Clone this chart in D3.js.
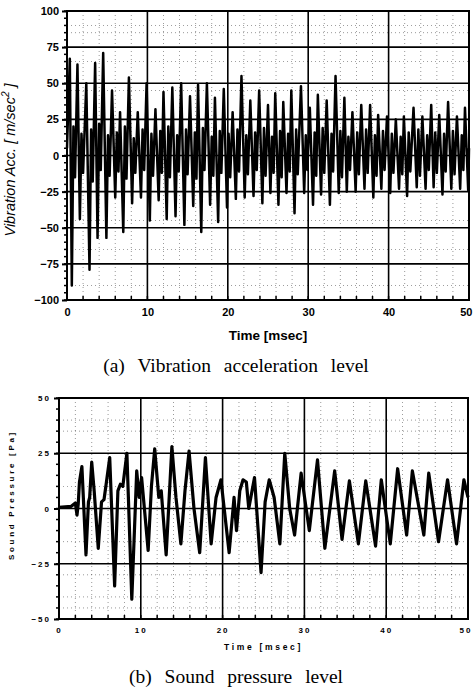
<!DOCTYPE html>
<html><head><meta charset="utf-8">
<script src="https://cdn.jsdelivr.net/npm/d3@7"></script>
<style>body{margin:0;background:#fff}svg{display:block}</style>
</head><body><svg id="c" width="473" height="690"></svg>
<script>
// ---------- data: (a) vibration acceleration ----------
const vibPeakT = [0.35,1.3,2.4,3.5,4.5,5.6,6.6,7.7,8.8,9.9,11.0,12.0,13.1,14.2,15.3,16.3,17.4,18.4,19.5,20.6,21.7,22.8,23.9,25.0,25.9,26.9,27.9,29.1,30.2,31.2,32.3,33.4,34.5,35.5,36.6,37.7,38.7,39.8,40.9,41.9,43.1,44.2,45.3,46.3,47.4,48.5,49.5];
const vibPeakV = [67,63,50,64,71,45,30,54,30,50,32,44,47,50,41,49,50,40,46,30,55,38,45,35,43,37,45,48,33,42,38,55,40,30,35,35,28,27,25,27,33,27,35,28,37,27,33];
const vibTroughT = [0.6,1.6,2.8,3.8,4.9,6.0,7.0,8.1,9.2,10.3,11.4,12.4,13.5,14.6,15.7,16.7,17.8,18.8,19.9,21.0,22.1,23.2,24.3,25.3,26.3,27.3,28.3,29.5,30.6,31.6,32.7,33.8,34.8,35.9,37.0,38.1,39.1,40.2,41.3,42.3,43.5,44.6,45.6,46.7,47.8,48.9,49.9];
const vibTroughV = [-90,-44,-79,-57,-57,-29,-53,-33,-29,-45,-31,-44,-42,-48,-35,-53,-34,-46,-36,-30,-29,-28,-33,-26,-34,-26,-40,-26,-34,-27,-34,-26,-25,-25,-23,-29,-23,-26,-23,-28,-22,-23,-22,-27,-23,-23,-24];
const vibRipT1 = [0.8,1.8,3.0,4.0,5.1,6.2,7.2,8.3,9.4,10.5,11.6,12.6,13.7,14.8,15.9,16.9,18.0,19.0,20.1,21.2,22.3,23.4,24.5,25.5,26.5,27.5,28.5,29.7,30.8,31.8,32.9,34.0,35.0,36.1,37.2,38.3,39.3,40.4,41.5,42.5,43.7,44.8,45.8,46.9,48.0,49.1];
const vibRipV1 = [20,15,18,22,14,16,20,12,18,15,17,20,14,18,16,19,13,17,15,18,14,16,19,13,17,15,18,14,16,19,15,17,13,16,18,14,17,15,13,16,18,14,16,15,17,14];
const vibRipT2 = [1.0,2.0,3.2,4.2,5.3,6.4,7.4,8.5,9.6,10.7,11.8,12.8,13.9,15.0,16.1,17.1,18.2,19.2,20.3,21.4,22.5,23.6,24.7,25.7,26.7,27.7,28.7,29.9,31.0,32.0,33.1,34.2,35.2,36.3,37.4,38.5,39.5,40.6,41.7,42.7,43.9,45.0,46.0,47.1,48.2,49.3];
const vibRipV2 = [-15,-12,-18,-10,-14,-11,-16,-12,-10,-14,-12,-15,-11,-13,-16,-10,-14,-12,-15,-11,-13,-10,-14,-12,-15,-11,-13,-10,-14,-12,-11,-15,-10,-13,-12,-14,-10,-12,-13,-11,-14,-10,-12,-11,-13,-10];
const vibYTicks = [-100,-75,-50,-25,0,25,50,75,100];
const vibDotted = [90,85,65,45,-45,-65,-90];
// ---------- data: (b) sound pressure ----------
const sndT = [0,1.5,2.0,2.2,2.35,2.5,2.8,3.3,3.6,3.75,4.0,4.3,4.8,5.2,5.5,5.8,6.2,6.8,7.2,7.5,7.8,8.3,8.9,9.5,9.8,10.1,10.9,11.3,11.7,12.2,12.5,13.1,13.8,14.3,14.9,15.4,15.9,16.5,17.2,17.9,18.6,19.2,19.8,20.8,21.4,21.7,22.1,22.5,22.9,23.2,23.5,23.9,24.7,25.2,25.7,26.3,27.0,27.6,28.2,28.8,29.6,30.6,31.6,32.5,33.7,34.6,35.5,36.6,37.5,38.7,39.4,40.5,41.4,42.5,43.2,44.6,45.2,46.4,47.5,48.6,49.5,50];
const sndV = [0.5,1,2.5,-3,2,12,19,-21,3,5,21,8,-18,3,4,12,23,-35,8,11,10,25,-41,17,5,14,-19,10,27,5,8,-21,28,5,-16,8,26,0,-20,23,-16,5,13,-20,5,-10,8,13,12,0,6,14,-29,3,13,5,-16,25,0,-12,16,-10,22,-18,17,-14,12.5,-16,12.5,-17,13,-16,18,-12,17,-12,16,-15,13,-16,13,5];
const sndYTicks = [-50,-25,0,25,50];
const sndDotted = [40,35,10,-15,-30,-40,-45];
const xTicks = [0,10,20,30,40,50];

const svg = d3.select("#c");

function panel(o){
  const x = d3.scaleLinear().domain([0,50]).range([o.x0,o.x1]);
  const y = d3.scaleLinear().domain(o.ydom).range([o.y1,o.y0]);
  const g = svg.append("g");
  const vMinor = d3.range(2,50,2).filter(v=>v%10!==0);
  g.selectAll(".vd").data(vMinor).join("line")
    .attr("x1",d=>x(d)).attr("x2",d=>x(d)).attr("y1",o.y0).attr("y2",o.y1)
    .attr("stroke","#000").attr("stroke-width",0.8).attr("stroke-dasharray","1,3").attr("opacity",0.5);
  g.selectAll(".hd").data(o.dotted).join("line")
    .attr("x1",o.x0).attr("x2",o.x1).attr("y1",d=>y(d)).attr("y2",d=>y(d))
    .attr("stroke","#000").attr("stroke-width",0.8).attr("stroke-dasharray","1,3").attr("opacity",0.5);
  g.selectAll(".vm").data([10,20,30,40]).join("line")
    .attr("x1",d=>x(d)).attr("x2",d=>x(d)).attr("y1",o.y0).attr("y2",o.y1)
    .attr("stroke","#000").attr("stroke-width",1.6);
  g.selectAll(".hm").data(o.yTicks.slice(1,-1)).join("line")
    .attr("x1",o.x0).attr("x2",o.x1).attr("y1",d=>y(d)).attr("y2",d=>y(d))
    .attr("stroke","#000").attr("stroke-width",1.6);
  g.append("path").datum(o.series)
    .attr("d",d3.line().x(d=>x(d[0])).y(d=>y(d[1])))
    .attr("fill","none").attr("stroke","#000").attr("stroke-width",o.lw).attr("stroke-linejoin","round");
  g.append("rect").attr("x",o.x0).attr("y",o.y0).attr("width",o.x1-o.x0).attr("height",o.y1-o.y0)
    .attr("fill","none").attr("stroke","#000").attr("stroke-width",2);
  const yMinor = d3.range(o.ydom[0],o.ydom[1]+0.1,5);
  g.selectAll(".ym").data(yMinor).join("line")
    .attr("x1",o.x0-3).attr("x2",o.x0).attr("y1",d=>y(d)).attr("y2",d=>y(d))
    .attr("stroke","#000").attr("stroke-width",1.5);
  g.selectAll(".xm").data(d3.range(0,50.1,2)).join("line")
    .attr("x1",d=>x(d)).attr("x2",d=>x(d)).attr("y1",o.y1).attr("y2",o.y1-4)
    .attr("stroke","#000").attr("stroke-width",1.5);
  const ya = g.append("g").attr("transform",`translate(${o.x0},0)`)
    .call(d3.axisLeft(y).tickValues(o.yTicks).tickSize(5).tickPadding(3).tickFormat(d3.format("d")));
  ya.select(".domain").remove();
  ya.selectAll("line").attr("stroke-width",2);
  ya.selectAll("text").attr("font-family",o.font).attr("font-weight","bold").attr("font-size",o.fs)
    .attr("letter-spacing",o.ls).attr("fill","#000");
  const xa = g.append("g").attr("transform",`translate(0,${o.y1})`)
    .call(d3.axisBottom(x).tickValues(xTicks).tickSize(0).tickPadding(o.xpad).tickFormat(d3.format("d")));
  xa.select(".domain").remove();
  xa.selectAll("text").attr("font-family",o.font).attr("font-weight","bold").attr("font-size",o.fs)
    .attr("letter-spacing",o.ls).attr("fill","#000");
  // keep the last tick label inside the page
  xa.selectAll(".tick").filter(d=>d===50).select("text")
    .attr("text-anchor","end").attr("x",472-o.x1);
  g.append("text").attr("x",(o.x0+o.x1)/2).attr("y",o.xtY).attr("text-anchor","middle")
    .attr("font-family",o.font).attr("font-weight","bold").attr("font-size",o.tfs).attr("letter-spacing",o.tls)
    .text(o.xTitle);
  const yt = g.append("text").attr("transform",`translate(${o.ytX},${o.ytY}) rotate(-90)`)
    .attr("text-anchor","middle").attr("font-family",o.font).attr("font-weight",o.ytW).attr("font-size",o.ytfs)
    .attr("letter-spacing",o.tls).attr("font-style",o.ytStyle);
  o.yTitle(yt);
  svg.append("text").attr("x",o.capX).attr("y",o.capY).attr("text-anchor","middle")
    .attr("font-family","'Liberation Serif','Times New Roman',serif").attr("font-size",19.5)
    .attr("word-spacing",8).text(o.caption);
}

const vibSeries = [[0,5]];
vibPeakT.forEach((t,i)=>{
  vibSeries.push([t,vibPeakV[i]]);
  vibSeries.push([vibTroughT[i],vibTroughV[i]]);
  if(i<vibRipT1.length){ vibSeries.push([vibRipT1[i],vibRipV1[i]]); vibSeries.push([vibRipT2[i],vibRipV2[i]]); }
});
vibSeries.push([50,5]);

panel({x0:67,x1:469,y0:11,y1:300,ydom:[-100,100],yTicks:vibYTicks,dotted:vibDotted,series:vibSeries,lw:2.5,
  font:"'Liberation Sans',Arial,sans-serif",fs:11,ls:0,tfs:13.5,tls:0,xtY:340,xTitle:"Time [msec]",xpad:8,
  ytX:15,ytY:160,ytfs:14.5,ytW:"normal",ytStyle:"italic",
  yTitle:t=>{t.append("tspan").text("Vibration Acc. [ m/sec");t.append("tspan").attr("dy",-6).attr("font-size",10).text("2");t.append("tspan").attr("dy",6).text(" ]");},
  capX:236,capY:372,caption:"(a) Vibration acceleration level"});

const sndSeries = sndT.map((t,i)=>[t,sndV[i]]);
panel({x0:59,x1:468,y0:398,y1:619,ydom:[-50,50],yTicks:sndYTicks,dotted:sndDotted,series:sndSeries,lw:3.2,
  font:"'Liberation Sans',Arial,sans-serif",fs:8,ls:2,tfs:8.5,tls:2.7,xtY:650,xTitle:"Time [msec]",xpad:8,
  ytX:14,ytY:495,ytfs:8,ytW:"bold",ytStyle:"normal",
  yTitle:t=>t.text("Sound Pressure [Pa]"),
  capX:236,capY:683,caption:"(b) Sound pressure level"});
</script></body></html>
